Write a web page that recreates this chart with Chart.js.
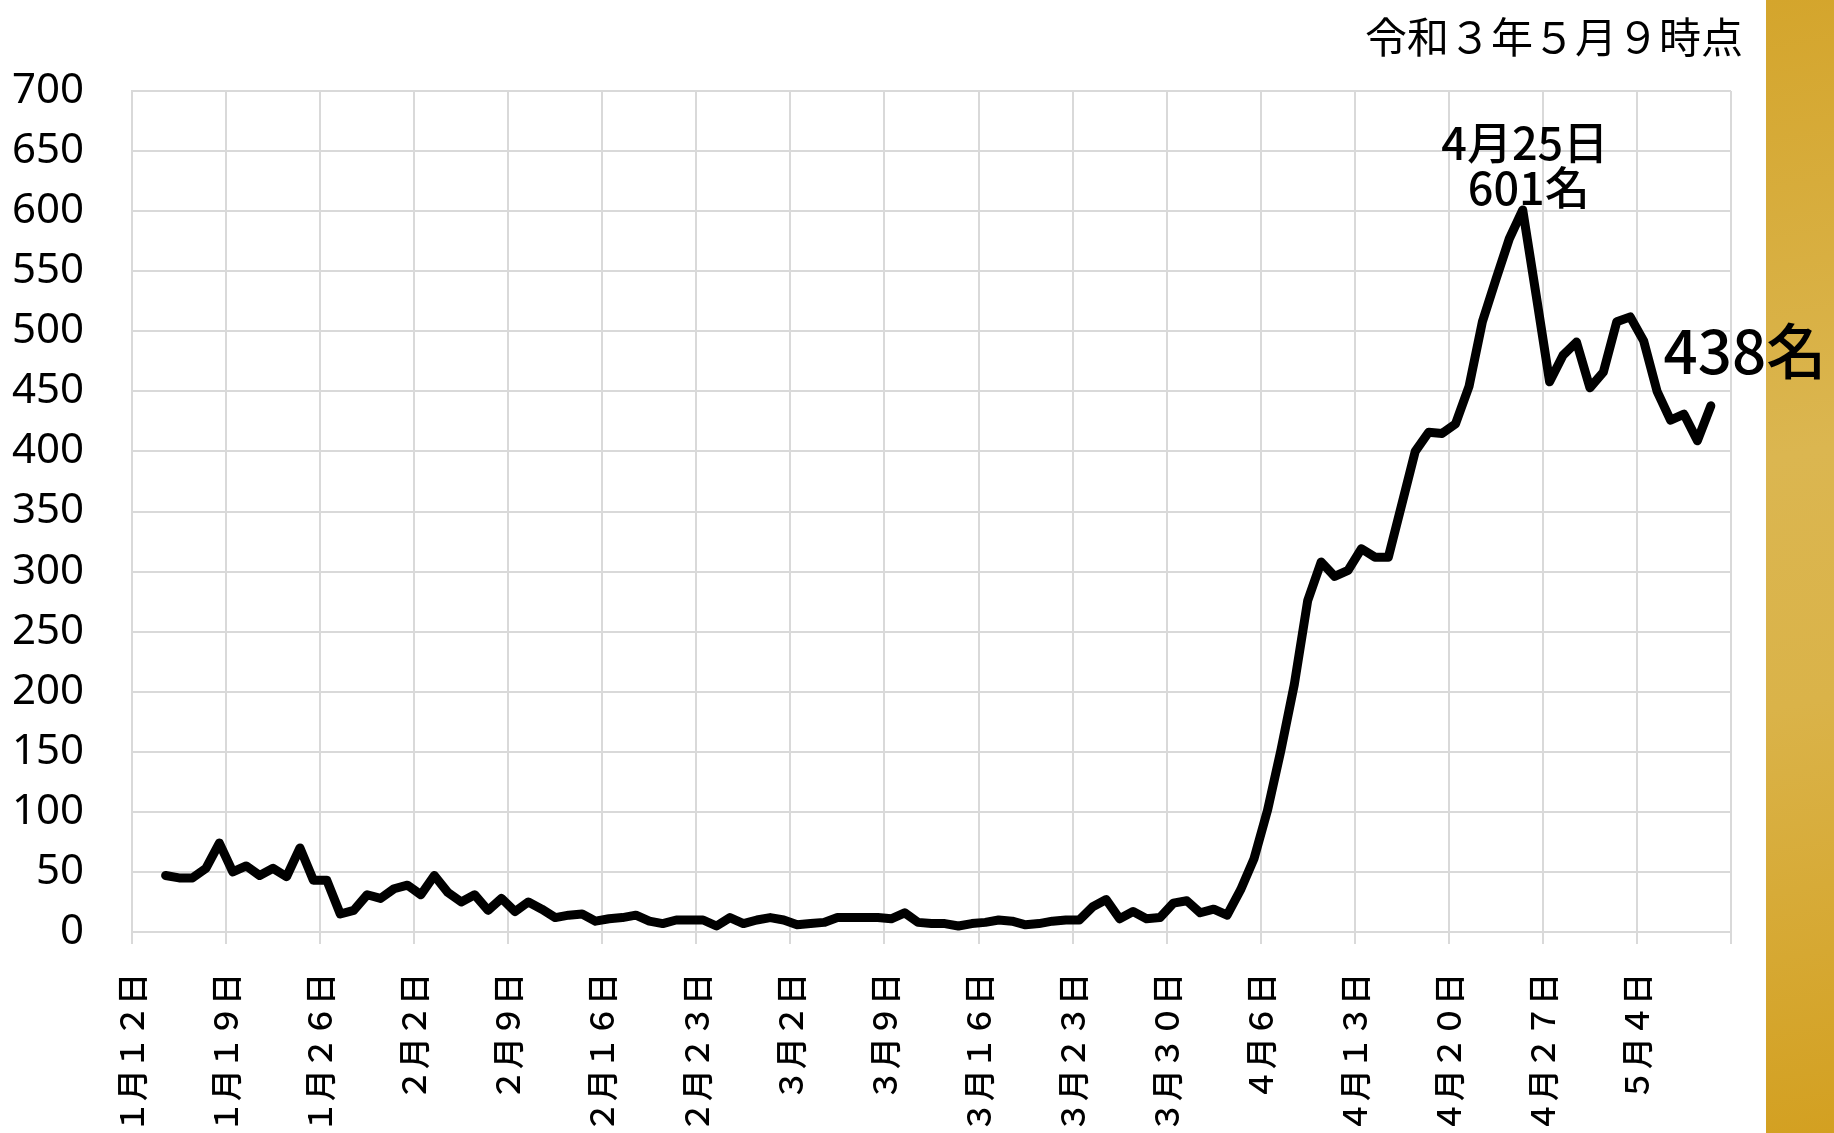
<!DOCTYPE html>
<html lang="ja">
<head>
    <meta charset="UTF-8">
    <title>入院患者数の推移</title>
    <script src="https://cdn.jsdelivr.net/npm/chart.js"></script>
    <style>
        html, body {
            margin: 0;
            padding: 0;
            background: #fff;
            overflow: hidden;
        }
        .wrap {
            position: relative;
            width: 1834px;
            height: 1133px;
        }
        .gold-bar {
            position: absolute;
            left: 1766px;
            top: 0;
            width: 68px;
            height: 1133px;
            background: linear-gradient(170deg, #d4a52c 0%, #dbb650 40%, #dab349 62%, #d3a021 100%);
        }
        .stamp {
            position: absolute;
            right: 91px;
            top: 12px;
            font: 42px "Noto Sans CJK JP";
            line-height: 46px;
            color: #000;
            white-space: nowrap;
        }
        canvas {
            position: absolute;
            left: 0;
            top: 0;
        }
    </style>
</head>
<body>
    <div class="wrap">
        <div class="gold-bar"></div>
        <canvas id="chart" width="1834" height="1133"></canvas>
        <div class="stamp">令和３年５月９時点</div>
    </div>

    <script>
        // weekly tick labels, one every 7 days starting 1月12日
        const tickLabels = ["１月１２日", "１月１９日", "１月２６日", "２月２日", "２月９日", "２月１６日",
            "２月２３日", "３月２日", "３月９日", "３月１６日", "３月２３日", "３月３０日",
            "４月６日", "４月１３日", "４月２０日", "４月２７日", "５月４日"];

        // first value is 1月14日 (2 days after 1月12日), last one 5月9日
        const firstDay = 2;
        const dailyCounts = [
            47, 45, 45, 53, 74, 50, 55, 47, 53, 46,
            70, 43, 43, 15, 18, 31, 28, 36, 39, 31,
            47, 33, 25, 31, 18, 28, 17, 25, 19, 12,
            14, 15, 9, 11, 12, 14, 9, 7, 10, 10,
            10, 5, 12, 7, 10, 12, 10, 6, 7, 8,
            12, 12, 12, 12, 11, 16, 8, 7, 7, 5,
            7, 8, 10, 9, 6, 7, 9, 10, 10, 21,
            27, 11, 17, 11, 12, 24, 26, 16, 19, 14,
            35, 61, 101, 151, 206, 276, 308, 296, 301, 319,
            312, 312, 356, 400, 416, 415, 423, 454, 508, 543,
            577, 601, 530, 458, 480, 491, 453, 466, 508, 512,
            492, 450, 426, 431, 409, 438
        ];

        const peakNote = ["4月25日", "601名"];
        const lastNote = "438名";

        const gridGray = "#d9d9d9";

        // callouts above the peak and beside the last point
        const calloutPlugin = {
            id: "callouts",
            afterDatasetsDraw(chart) {
                const ctx = chart.ctx;
                const pts = chart.getDatasetMeta(0).data;
                const peakIdx = dailyCounts.indexOf(Math.max(...dailyCounts));
                const peak = pts[peakIdx];
                const last = pts[pts.length - 1];

                ctx.save();
                ctx.fillStyle = "#000";
                ctx.textAlign = "center";
                ctx.textBaseline = "middle";
                ctx.font = '500 45px "Noto Sans CJK JP"';
                ctx.fillText(peakNote[0], peak.x + 2, peak.y - 67);
                ctx.fillText(peakNote[1], peak.x + 6, peak.y - 22);
                ctx.font = '500 60px "Noto Sans CJK JP"';
                ctx.fillText(lastNote, last.x + 34, last.y - 55);
                ctx.restore();
            }
        };

        new Chart(document.getElementById("chart"), {
            type: "line",
            data: {
                datasets: [{
                    data: dailyCounts.map((v, i) => ({ x: firstDay + i + 0.5, y: v })),
                    borderColor: "#000",
                    borderWidth: 9,
                    borderJoinStyle: "round",
                    borderCapStyle: "round",
                    pointRadius: 0,
                    tension: 0,
                    fill: false
                }]
            },
            options: {
                responsive: false,
                animation: false,
                devicePixelRatio: 1,
                layout: {
                    padding: { top: 91, right: 103, bottom: 0, left: 0 }
                },
                plugins: {
                    legend: { display: false },
                    tooltip: { enabled: false }
                },
                scales: {
                    x: {
                        type: "linear",
                        min: 0,
                        max: 119,
                        afterFit: (scale) => { scale.height = 201; },
                        grid: { color: gridGray, lineWidth: 2, drawTicks: true, tickLength: 12, tickColor: gridGray },
                        border: { color: gridGray, width: 2 },
                        ticks: {
                            stepSize: 7,
                            autoSkip: false,
                            minRotation: 90,
                            maxRotation: 90,
                            padding: 29,
                            color: "#000",
                            font: { family: '"Noto Sans CJK JP"', size: 32, weight: "500" },
                            callback: (v) => tickLabels[Math.round(v / 7)] ?? ""
                        }
                    },
                    y: {
                        min: 0,
                        max: 700,
                        afterFit: (scale) => { scale.width = 132; },
                        grid: { color: gridGray, lineWidth: 2, drawTicks: false },
                        border: { color: gridGray, width: 2 },
                        ticks: {
                            stepSize: 50,
                            padding: 48,
                            color: "#000",
                            font: { family: '"Noto Sans"', size: 42 }
                        }
                    }
                }
            },
            plugins: [calloutPlugin]
        });
    </script>
</body>
</html>
